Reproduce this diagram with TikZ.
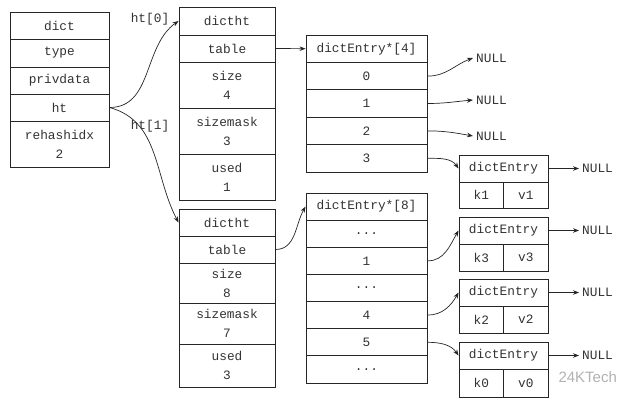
\documentclass[tikz,border=0pt]{standalone}
\usepackage{fontspec}
\setmonofont{Liberation Mono}
\setsansfont{Liberation Sans}
\usetikzlibrary{arrows.meta}
\begin{document}
\begin{tikzpicture}[x=1pt,y=-1pt,
  cell/.style n args={2}{draw=black!85, line width=0.9pt, minimum width=#1, minimum height=#2,
    inner sep=0pt, align=center, text=black!80, font=\ttfamily\fontsize{12.8}{19}\selectfont},
  lbl/.style={inner sep=3pt, text=black!80, font=\ttfamily\fontsize{12.8}{15}\selectfont},
  arr/.style={draw=black!85, line width=0.7pt, -{Stealth[length=6pt,width=4.5pt]}},
  wm/.style={text=black!30, font=\sffamily\fontsize{15}{15}\selectfont}]
\useasboundingbox (0,0) rectangle (640,404);
\fill[white] (0,0) rectangle (640,404);

% dict
\node[cell={99}{27}] (d1) at (59.5,25.5) {dict};
\node[cell={99}{28}] (d2) at (59.5,53) {type};
\node[cell={99}{27}] (d3) at (59.5,80.5) {privdata};
\node[cell={99}{27}] (d4) at (59.5,107.5) {ht};
\node[cell={99}{46}] (d5) at (59.5,144) {rehashidx\\2};

% dictht 0
\node[cell={96}{28}] (a1) at (227,21) {dictht};
\node[cell={96}{27}] (a2) at (227,48.5) {table};
\node[cell={96}{46}] (a3) at (227,85) {size\\4};
\node[cell={96}{46}] (a4) at (227,131) {sizemask\\3};
\node[cell={96}{46}] (a5) at (227,177) {used\\1};

% dictht 1
\node[cell={96}{27}] (b1) at (227,222.5) {dictht};
\node[cell={96}{27}] (b2) at (227,249.5) {table};
\node[cell={96}{40}] (b3) at (227,283) {size\\8};
\node[cell={96}{41}] (b4) at (227,323.5) {sizemask\\7};
\node[cell={96}{43}] (b5) at (227,365.5) {used\\3};

% table 4
\node[cell={121}{27.4}] (t0) at (366.5,48.7) {dictEntry*[4]};
\node[cell={121}{27.4}] (t1) at (366.5,76.1) {0};
\node[cell={121}{27.4}] (t2) at (366.5,103.5) {1};
\node[cell={121}{27.4}] (t3) at (366.5,130.9) {2};
\node[cell={121}{27.4}] (t4) at (366.5,158.3) {3};

% table 8
\node[cell={121}{27.14}] (u0) at (366.5,206.6) {dictEntry*[8]};
\node[cell={121}{27.14}] (u1) at (366.5,233.7) {...};
\node[cell={121}{27.14}] (u2) at (366.5,260.9) {1};
\node[cell={121}{27.14}] (u3) at (366.5,288) {...};
\node[cell={121}{27.14}] (u4) at (366.5,315.1) {4};
\node[cell={121}{27.14}] (u5) at (366.5,342.3) {5};
\node[cell={121}{27.14}] (u6) at (366.5,369.4) {...};

% entries
\node[cell={89}{27}] (e1) at (503.5,168.5) {dictEntry};
\node[cell={44.5}{26}] (e1k) at (481.25,195) {k1};
\node[cell={44.5}{26}] (e1v) at (525.75,195) {v1};
\node[cell={89}{27}] (e2) at (503.5,230.5) {dictEntry};
\node[cell={44.5}{27}] (e2k) at (481.25,257.5) {k3};
\node[cell={44.5}{27}] (e2v) at (525.75,257.5) {v3};
\node[cell={89}{27}] (e3) at (503.5,292.5) {dictEntry};
\node[cell={44.5}{27}] (e3k) at (481.25,319.5) {k2};
\node[cell={44.5}{27}] (e3v) at (525.75,319.5) {v2};
\node[cell={89}{27}] (e4) at (503.5,355.5) {dictEntry};
\node[cell={44.5}{28}] (e4k) at (481.25,383) {k0};
\node[cell={44.5}{28}] (e4v) at (525.75,383) {v0};

% NULL labels
\node[lbl,anchor=west] (n0) at (473,58) {NULL};
\node[lbl,anchor=west] (n1) at (473,100) {NULL};
\node[lbl,anchor=west] (n2) at (473,136) {NULL};
\node[lbl,anchor=west] (m1) at (579,168.5) {NULL};
\node[lbl,anchor=west] (m2) at (579,230.5) {NULL};
\node[lbl,anchor=west] (m3) at (579,292.5) {NULL};
\node[lbl,anchor=west] (m4) at (579,355.5) {NULL};

% ht labels
\node[lbl] (h0) at (150,19) {ht[0]};
\node[lbl] (h1) at (150,126) {ht[1]};

% connectors
\draw[arr] (d4.east) to[out=0,in=215] (a1.west);
\draw[arr] (d4.east) to[out=-15,in=118] (b1.west);
\draw[arr] (a2.east) -- (t0.west);
\draw[arr] (b2.east) to[out=0,in=240] (u0.west);
\draw[arr] (t1.east) to[out=0,in=200] (n0.west);
\draw[arr] (t2.east) to[out=0,in=185] (n1.west);
\draw[arr] (t3.east) to[out=0,in=170] (n2.west);
\draw[arr] (t4.east) to[out=0,in=125] (e1.west);
\draw[arr] (u2.east) to[out=0,in=240] (e2.west);
\draw[arr] (u4.east) to[out=0,in=240] (e3.west);
\draw[arr] (u5.east) to[out=0,in=125] (e4.west);
\draw[arr] (e1.east) -- (m1.west);
\draw[arr] (e2.east) -- (m2.west);
\draw[arr] (e3.east) -- (m3.west);
\draw[arr] (e4.east) -- (m4.west);

% watermark
\node[wm,anchor=west] (wmk) at (555,377) {24KTech};
\end{tikzpicture}
\end{document}
